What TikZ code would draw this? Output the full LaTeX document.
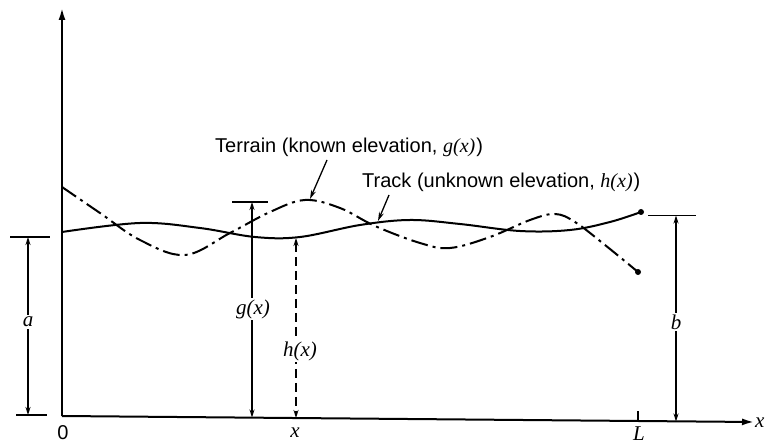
\documentclass[tikz,border=0pt]{standalone}
\usepackage{fontspec}
\setmainfont{Liberation Serif}
\setsansfont{Liberation Sans}
\usetikzlibrary{arrows.meta}
\newcommand{\mvar}[1]{{\rmfamily\itshape #1}}

\begin{document}
\begin{tikzpicture}[
  x=1pt,y=-1pt,
  font=\sffamily\fontsize{20}{23}\selectfont,
  axis/.style={-{Latex[length=12pt,width=7pt]}, line width=2pt},
  dimline/.style={{Stealth[length=8pt,width=5pt]}-{Stealth[length=8pt,width=5pt]}, line width=1.3pt},
  dimdash/.style={dimline, dash pattern=on 9pt off 5pt},
  extline/.style={line width=1.3pt},
  track/.style={line width=2pt},
  terrain/.style={line width=2pt, dash pattern=on 17pt off 5pt on 3pt off 5pt},
  callout/.style={-{Stealth[length=9pt,width=5pt]}, line width=1.3pt},
  biglabel/.style={font=\fontsize{21}{24}\selectfont},
  dimlabel/.style={biglabel, fill=white, inner sep=1.5pt},
  endpt/.style={fill=black}
]
\useasboundingbox (0,0) rectangle (767,443);

% Axes (the x axis runs a touch downhill, as in the drawing)
\coordinate (O) at (62,416);
\coordinate (ytop) at (62,8);
\coordinate (xend) at (754,422);
\draw[axis] (O) -- (ytop);
\draw[axis] (O) -- (xend);
\node[biglabel, anchor=base west, inner sep=0pt] (xlab) at (755,427) {\mvar{x}};
\node[anchor=base] (zero) at (63,439) {0};
\node[biglabel, anchor=base] (xtick) at (295,437) {\mvar{x}};
\coordinate (Ltop) at (638,411);
\coordinate (Lbot) at (638,421.3);
\draw[extline] (Ltop) -- (Lbot);
\node[biglabel, anchor=base, inner sep=0pt] (Llab) at (639,440) {\mvar{L}};

% Track (unknown elevation)
\draw[track] plot[smooth, tension=0.6] coordinates {
  (62,232) (140,223) (200,228) (255,237) (300,237) (360,225)
  (410,220) (460,224) (520,231) (570,230) (610,222) (641,212)};
\fill[endpt] (641,212) circle[radius=3pt];

% Terrain (known elevation)
\draw[terrain] plot[smooth, tension=0.6] coordinates {
  (62,187) (100,213) (140,240) (185,255) (230,233) (270,212)
  (305,200) (340,208) (375,226) (420,243) (450,248) (490,237)
  (530,220) (555,214) (575,222) (605,245) (638,272)};
\fill[endpt] (638,272) circle[radius=3pt];

% Dimension a
\coordinate (atop) at (28,237);
\coordinate (abot) at (28,415);
\draw[extline] (10,237) -- (50,237);
\draw[extline] (16,415) -- (47,415);
\draw[dimline] (atop) -- (abot);
\node[dimlabel] (alab) at (28,322) {\mvar{a}};

% Dimension g(x)
\coordinate (gtop) at (252,202);
\coordinate (gbot) at (252,417.5);
\draw[extline] (232,202) -- (268,202);
\draw[dimline] (gtop) -- (gbot);
\node[dimlabel] (glab) at (253,309) {\mvar{g(x)}};

% Dimension h(x)
\coordinate (htop) at (296,238);
\coordinate (hbot) at (296,418);
\draw[dimdash] (htop) -- (hbot);
\node[dimlabel] (hlab) at (300,351) {\mvar{h(x)}};

% Dimension b
\coordinate (btop) at (676,215.5);
\coordinate (bbot) at (676,421.5);
\draw[extline] (648,215.5) -- (696,215.5);
\draw[dimline] (btop) -- (bbot);
\node[dimlabel] (blab) at (676,322) {\mvar{b}};

% Callouts
\node[anchor=base west, inner sep=0pt] (terrlab) at (215,153) {Terrain (known elevation, \mvar{g(x)}\kern1pt)};
\node[anchor=base west, inner sep=0pt] (tracklab) at (362,188) {Track (unknown elevation, \mvar{h(x)}\kern1pt)};
\coordinate (terrpt) at (310,199);
\coordinate (trackpt) at (378,221);
\draw[callout] (327,160) -- (terrpt);
\draw[callout] (389,195) -- (trackpt);

\end{tikzpicture}
\end{document}
